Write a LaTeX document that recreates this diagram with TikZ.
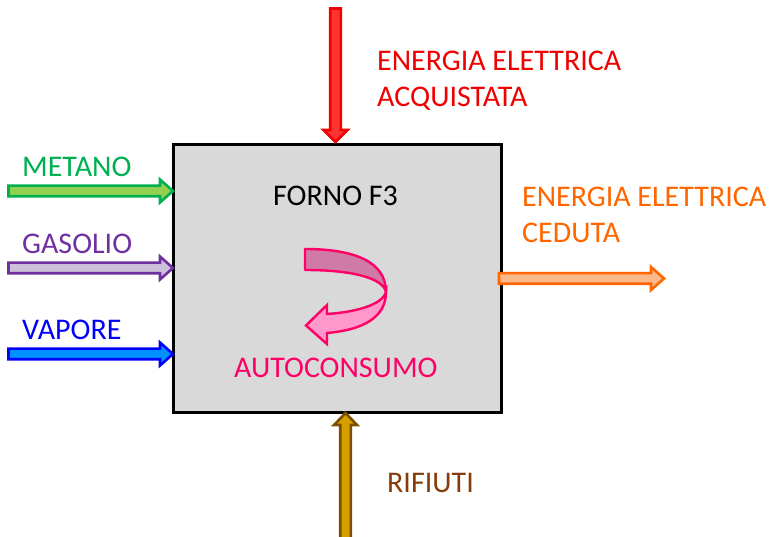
\documentclass[tikz,border=0pt]{standalone}
\usepackage{fontspec}
\setmainfont{Carlito}
\usetikzlibrary{calc}
\definecolor{cgreen}{HTML}{00B050}
\definecolor{cgreenf}{HTML}{92D050}
\definecolor{cpurple}{HTML}{7030A0}
\definecolor{cpurplef}{HTML}{CCC0DA}
\definecolor{cblue}{HTML}{0000FF}
\definecolor{cbluef}{HTML}{0090FF}
\definecolor{corange}{HTML}{FF6600}
\definecolor{corangef}{HTML}{FBB98A}
\definecolor{cbrown}{HTML}{7F4F00}
\definecolor{cbrownf}{HTML}{D4A000}
\definecolor{cbrowntxt}{HTML}{843C0C}
\definecolor{cred}{HTML}{F00000}
\definecolor{credf}{HTML}{FF3333}
\definecolor{cpink}{HTML}{FF0066}
\definecolor{cpinkdark}{HTML}{D07AA6}
\definecolor{cpinklight}{HTML}{FF99CC}
\definecolor{cbox}{HTML}{D9D9D9}
\newcommand{\barrow}[6]{%
  \path ($(#3)!#6!(#2)$) coordinate (bh);
  \draw[#1] ($(#2)!#4!90:(#3)$) -- ($(bh)!#4!-90:(#2)$) -- ($(bh)!#5!-90:(#2)$) -- (#3)
    -- ($(bh)!#5!90:(#2)$) -- ($(bh)!#4!90:(#2)$) -- ($(#2)!#4!-90:(#3)$) -- cycle;}
\tikzset{
  lbl/.style={anchor=base west, inner sep=0pt, font=\fontsize{30}{36}\selectfont},
  barr/.style={line width=2.6pt, line join=miter, miter limit=10},
}
\begin{document}
\begin{tikzpicture}[x=1pt,y=-1pt]
\useasboundingbox (0,0) rectangle (772,537);
% box
\node[draw=black, fill=cbox, line width=3pt, minimum width=328pt, minimum height=267.5pt, inner sep=0pt, anchor=north west] (box) at (171.5,143.5) {};
% coordinates
\coordinate (rs) at (335.5,8.5);
\coordinate (re) at (335.5,142);
\coordinate (bs) at (345.5,545);
\coordinate (be) at (345.5,413);
\coordinate (ms) at (8.5,191);
\coordinate (me) at (173,191);
\coordinate (gs) at (8.5,268);
\coordinate (ge) at (173,268);
\coordinate (vs) at (8.5,354);
\coordinate (ve) at (173,354);
\coordinate (os) at (499,278.5);
\coordinate (oe) at (664,278.5);
% arrows
\barrow{barr, draw=cred, fill=credf}{rs}{re}{5.3pt}{12pt}{12pt}
\barrow{barr, draw=cbrown, fill=cbrownf}{bs}{be}{5.3pt}{11.5pt}{12pt}
\barrow{barr, draw=cgreen, fill=cgreenf}{ms}{me}{5.3pt}{11.5pt}{13pt}
\barrow{barr, draw=cpurple, fill=cpurplef}{gs}{ge}{5.3pt}{11.5pt}{13pt}
\barrow{barr, draw=cblue, fill=cbluef}{vs}{ve}{5.3pt}{11.5pt}{13pt}
\barrow{barr, draw=corange, fill=corangef}{os}{oe}{5.3pt}{11.5pt}{13pt}
% curved arrow
\draw[line width=2.4pt, draw=cpink, fill=cpinkdark, line join=round]
  (305,249) .. controls (355,249) and (386,262) .. (386,292)
  .. controls (383,278) and (352,270) .. (305,270) -- cycle;
\draw[line width=2.4pt, draw=cpink, fill=cpinklight, line join=miter]
  (386,292) .. controls (386,318) and (362,330) .. (327,333)
  -- (327,344) -- (306,325.5) -- (327,305) -- (327,314)
  .. controls (356,312) and (382,305) .. (386,292) -- cycle;
% labels
\node[lbl, text=cred] (t1) at (377,71) {ENERGIA ELETTRICA};
\node[lbl, text=cred] (t2) at (377,107) {ACQUISTATA};
\node[lbl, text=corange] (t3) at (522,207) {ENERGIA ELETTRICA};
\node[lbl, text=corange] (t4) at (522,243) {CEDUTA};
\node[lbl, text=black] (t5) at (273,206) {FORNO F3};
\node[lbl, text=cpink] (t6) at (234,378) {AUTOCONSUMO};
\node[lbl, text=cgreen] (t7) at (22,177) {METANO};
\node[lbl, text=cpurple] (t8) at (22,254) {GASOLIO};
\node[lbl, text=cblue] (t9) at (22,340) {VAPORE};
\node[lbl, text=cbrowntxt] (t10) at (387,493) {RIFIUTI};
\end{tikzpicture}
\end{document}
